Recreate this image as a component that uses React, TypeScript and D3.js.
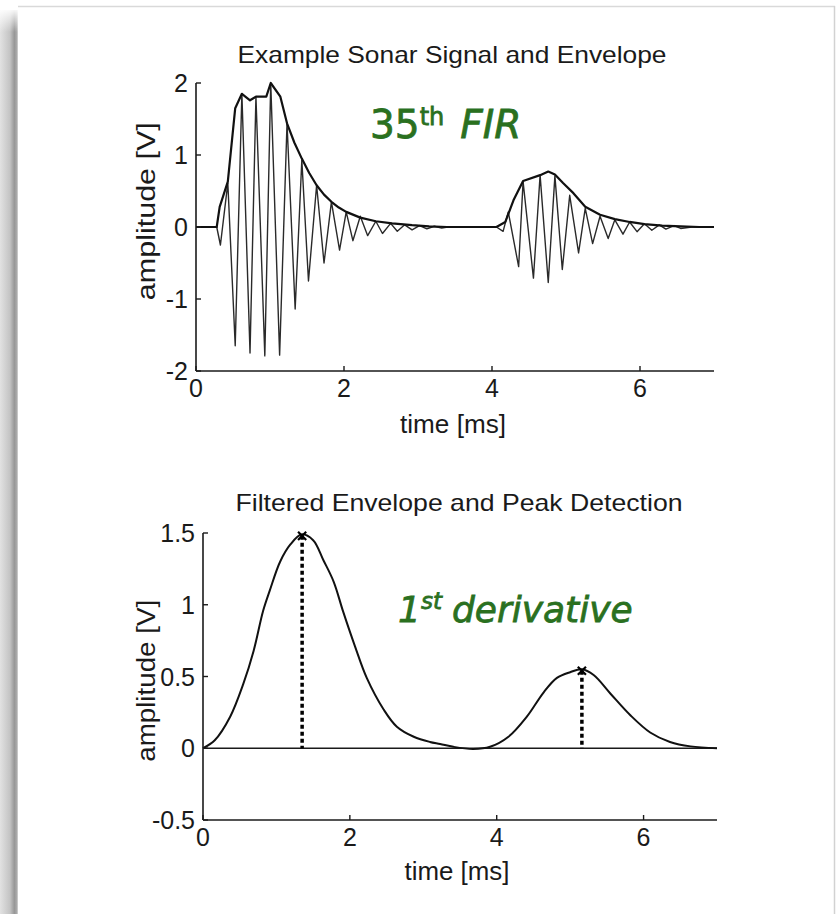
import React from "react";
import * as d3 from "d3";

// top plot: raw sonar signal, read as alternating peaks (time ms, amplitude V)
const sigT = [0, 0.28, 0.33, 0.43, 0.53, 0.62, 0.73, 0.81, 0.93, 1.01, 1.13, 1.23, 1.34, 1.43, 1.52, 1.63, 1.73, 1.83, 1.94, 2.03, 2.12, 2.22, 2.32, 2.43, 2.52, 2.63, 2.72, 2.82, 2.92, 3.02, 3.12, 3.22, 3.32, 3.4,
  4.06, 4.15, 4.22, 4.36, 4.42, 4.56, 4.65, 4.76, 4.85, 4.95, 5.05, 5.17, 5.26, 5.36, 5.46, 5.57, 5.66, 5.77, 5.86, 5.96, 6.06, 6.16, 6.26, 6.35, 6.46, 6.55, 6.7, 7];
const sigV = [0, 0, -0.25, 0.61, -1.65, 1.85, -1.75, 1.81, -1.79, 2.0, -1.78, 1.44, -1.14, 0.93, -0.75, 0.58, -0.5, 0.35, -0.32, 0.21, -0.19, 0.15, -0.12, 0.08, -0.09, 0.05, -0.06, 0.03, -0.04, 0.02, -0.025, 0.01, -0.015, 0,
  0, -0.06, 0.21, -0.55, 0.63, -0.71, 0.72, -0.77, 0.71, -0.59, 0.44, -0.36, 0.26, -0.23, 0.15, -0.16, 0.1, -0.1, 0.07, -0.065, 0.045, -0.045, 0.03, -0.03, 0.02, -0.02, 0, 0];

// top plot: envelope
const envT = [0, 0.28, 0.32, 0.43, 0.53, 0.62, 0.73, 0.81, 0.95, 1.01, 1.14, 1.23, 1.33, 1.43, 1.53, 1.63, 1.73, 1.83, 1.93, 2.03, 2.22, 2.43, 2.65, 2.92, 3.15, 3.39,
  4.06, 4.18, 4.29, 4.42, 4.65, 4.76, 4.85, 4.96, 5.1, 5.26, 5.46, 5.66, 5.86, 6.06, 6.3, 6.55, 6.8, 7];
const envV = [0, 0, 0.28, 0.63, 1.65, 1.85, 1.76, 1.81, 1.81, 2.0, 1.81, 1.44, 1.17, 0.95, 0.75, 0.58, 0.45, 0.35, 0.27, 0.21, 0.13, 0.08, 0.05, 0.025, 0.01, 0,
  0, 0.07, 0.37, 0.64, 0.72, 0.77, 0.73, 0.61, 0.47, 0.28, 0.17, 0.11, 0.07, 0.04, 0.02, 0.01, 0, 0];

// bottom plot: filtered envelope
const filtT = [0, 0.16, 0.37, 0.55, 0.69, 0.82, 0.91, 1.05, 1.19, 1.34, 1.5, 1.64, 1.78, 1.91, 2.07, 2.23, 2.46, 2.64, 2.87, 3.09, 3.23, 3.41, 3.68, 3.91, 4.16, 4.41, 4.64, 4.82, 5.0, 5.16, 5.32, 5.55, 5.82, 6.09, 6.36, 6.64, 7];
const filtV = [0, 0.056, 0.22, 0.45, 0.68, 0.96, 1.1, 1.3, 1.42, 1.49, 1.45, 1.31, 1.16, 0.95, 0.71, 0.49, 0.27, 0.15, 0.08, 0.044, 0.03, 0.01, -0.005, 0.01, 0.08, 0.22, 0.39, 0.49, 0.53, 0.55, 0.51, 0.38, 0.23, 0.11, 0.044, 0.013, 0];

const peakT = [1.35, 5.16];
const peakV = [1.48, 0.54];

const topTicksX = [0, 2, 4, 6];
const topTicksY = [-2, -1, 0, 1, 2];
const botTicksX = [0, 2, 4, 6];
const botTicksY = [-0.5, 0, 0.5, 1, 1.5];

const W = 836;
const H = 914;
const font = "Liberation Sans, Arial, sans-serif";
const comic = "'Comic Sans MS', 'DejaVu Sans', sans-serif";
const green = "#2a701f";
const ink = "#1a1a1a";

type P = [number, number];
const zip = (a: number[], b: number[]): P[] => a.map((t, i) => [t, b[i]]);

function Axes({ x, y, ticksX, ticksY }: { x: d3.ScaleLinear<number, number>; y: d3.ScaleLinear<number, number>; ticksX: number[]; ticksY: number[] }) {
  const [x0, x1] = x.range();
  const [y0, y1] = y.range();
  return (
    <g>
      <line x1={x0} x2={x1} y1={y0} y2={y0} stroke={ink} strokeWidth={1.6} />
      <line x1={x0} x2={x0} y1={y0} y2={y1} stroke={ink} strokeWidth={1.6} />
      {ticksX.map((t) => (
        <g key={"x" + t}>
          <line x1={x(t)} x2={x(t)} y1={y0} y2={y0 - 5} stroke={ink} strokeWidth={1.4} />
          <text x={x(t)} y={y0 + 26} textAnchor="middle" fontSize={25} fill={ink} fontFamily={font}>{t}</text>
        </g>
      ))}
      {ticksY.map((v) => (
        <g key={"y" + v}>
          <line x1={x0} x2={x0 + 5} y1={y(v)} y2={y(v)} stroke={ink} strokeWidth={1.4} />
          <text x={x0 - 8} y={y(v) + 9} textAnchor="end" fontSize={25} fill={ink} fontFamily={font}>{v}</text>
        </g>
      ))}
    </g>
  );
}

export default function App() {
  // top plot scales
  const xT = d3.scaleLinear().domain([0, 7]).range([196, 714]);
  const yT = d3.scaleLinear().domain([-2, 2]).range([371, 83]);
  // bottom plot scales
  const xB = d3.scaleLinear().domain([0, 7]).range([203, 717]);
  const yB = d3.scaleLinear().domain([-0.5, 1.5]).range([820, 533]);

  const lineT = d3.line<P>().x((d) => xT(d[0])).y((d) => yT(d[1]));
  const lineB = d3.line<P>().x((d) => xB(d[0])).y((d) => yB(d[1])).curve(d3.curveCatmullRom);

  return (
    <svg width={W} height={H} style={{ position: "absolute", left: 0, top: 0, background: "#fff" }}>
      <defs>
        <linearGradient id="shadow" x1="0" x2="1" y1="0" y2="0">
          <stop offset="0" stopColor="#e2e2e2" />
          <stop offset="0.55" stopColor="#c4c4c4" />
          <stop offset="0.8" stopColor="#979797" />
          <stop offset="0.92" stopColor="#a8a8a8" />
          <stop offset="1" stopColor="#d6d6d6" />
        </linearGradient>
        <linearGradient id="shadowTop" x1="0" x2="0" y1="0" y2="1">
          <stop offset="0" stopColor="#fff" stopOpacity="1" />
          <stop offset="1" stopColor="#fff" stopOpacity="0" />
        </linearGradient>
      </defs>
      {/* page frame */}
      <rect x={0} y={10} width={18} height={H - 10} fill="url(#shadow)" />
      <rect x={0} y={8} width={18} height={24} fill="url(#shadowTop)" />
      <line x1={18} x2={835} y1={6.5} y2={6.5} stroke="#d9d9d9" strokeWidth={1.5} />
      <line x1={834.5} x2={834.5} y1={6} y2={H} stroke="#d2d2d2" strokeWidth={1.5} />

      {/* top plot */}
      <text x={452} y={63} textAnchor="middle" fontSize={24} textLength={429} lengthAdjust="spacingAndGlyphs" fill={ink} fontFamily={font}>Example Sonar Signal and Envelope</text>
      <path d={lineT(zip(sigT, sigV)) || ""} fill="none" stroke="#2a2a2a" strokeWidth={1.4} strokeLinejoin="round" />
      <path d={lineT(zip(envT, envV)) || ""} fill="none" stroke="#111" strokeWidth={2.2} strokeLinejoin="round" />
      <Axes x={xT} y={yT} ticksX={topTicksX} ticksY={topTicksY} />
      <text x={453} y={433} textAnchor="middle" fontSize={25} textLength={106} lengthAdjust="spacingAndGlyphs" fill={ink} fontFamily={font}>time [ms]</text>
      <text transform={`translate(155,${yT(0.22)}) rotate(-90)`} textAnchor="middle" fontSize={25} textLength={178} lengthAdjust="spacingAndGlyphs" fill={ink} fontFamily={font}>amplitude [V]</text>
      <text x={370} y={138} fontSize={39} fill={green} stroke={green} strokeWidth={0.8} fontFamily={comic}>
        35<tspan fontSize={24} dy={-13}>th</tspan><tspan dy={13} dx={16} fontStyle="italic">FIR</tspan>
      </text>

      {/* bottom plot */}
      <text x={459} y={511} textAnchor="middle" fontSize={24} textLength={447} lengthAdjust="spacingAndGlyphs" fill={ink} fontFamily={font}>Filtered Envelope and Peak Detection</text>
      <line x1={xB(0)} x2={xB(7)} y1={yB(0)} y2={yB(0)} stroke={ink} strokeWidth={1.4} />
      <path d={lineB(zip(filtT, filtV)) || ""} fill="none" stroke="#111" strokeWidth={2} strokeLinejoin="round" />
      {peakT.map((t, i) => (
        <g key={"pk" + i}>
          <line x1={xB(t)} x2={xB(t)} y1={yB(peakV[i])} y2={yB(0)} stroke="#000" strokeWidth={3.5} strokeDasharray="4,3" />
          <path d={d3.symbol(d3.symbolX, 45)() || ""} transform={`translate(${xB(t)},${yB(peakV[i])})`} stroke="#000" strokeWidth={2.2} />
        </g>
      ))}
      <Axes x={xB} y={yB} ticksX={botTicksX} ticksY={botTicksY} />
      <text x={457} y={880} textAnchor="middle" fontSize={25} textLength={105} lengthAdjust="spacingAndGlyphs" fill={ink} fontFamily={font}>time [ms]</text>
      <text transform={`translate(155,${yB(0.47)}) rotate(-90)`} textAnchor="middle" fontSize={25} textLength={162} lengthAdjust="spacingAndGlyphs" fill={ink} fontFamily={font}>amplitude [V]</text>
      <text x={398} y={622} fontSize={36} fill={green} stroke={green} strokeWidth={0.8} fontStyle="italic" fontFamily={comic}>
        1<tspan fontSize={23} dy={-13}>st</tspan><tspan dy={13} dx={10}>derivative</tspan>
      </text>
    </svg>
  );
}
